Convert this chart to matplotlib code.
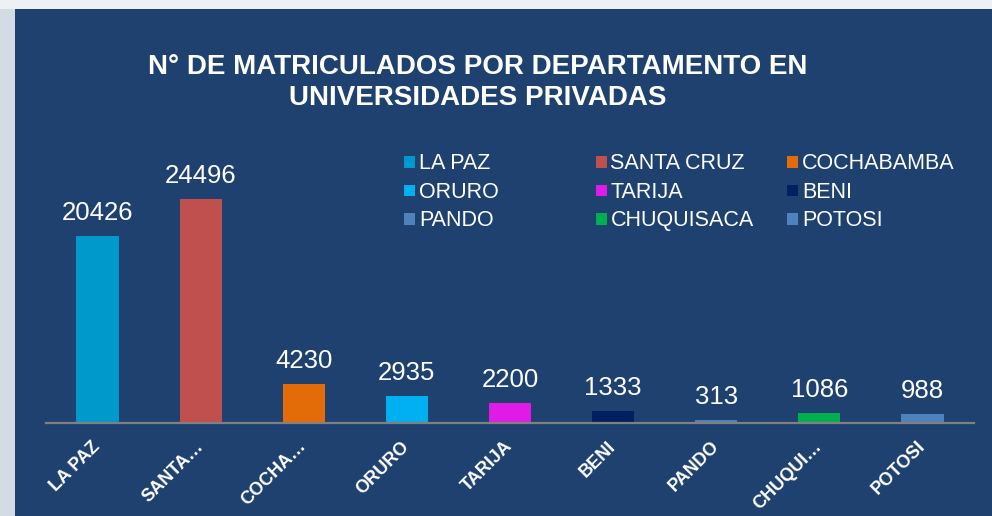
import matplotlib.pyplot as plt
from matplotlib.patches import Rectangle

departamentos = ["LA PAZ", "SANTA CRUZ", "COCHABAMBA", "ORURO", "TARIJA",
                 "BENI", "PANDO", "CHUQUISACA", "POTOSI"]
etiquetas = ["LA PAZ", "SANTA…", "COCHA…", "ORURO", "TARIJA",
             "BENI", "PANDO", "CHUQUI…", "POTOSI"]
matriculados = [20426, 24496, 4230, 2935, 2200, 1333, 313, 1086, 988]
colores = ["#0099CC", "#C0504D", "#E36C09", "#00B0F0", "#E01BE8",
           "#002060", "#4F81BD", "#00B050", "#4F81BD"]

panel = "#1F4170"
W, H = 992, 516

plt.rcParams['font.family'] = ['Liberation Sans', 'DejaVu Sans']

fig = plt.figure(figsize=(W / 100, H / 100), dpi=100, facecolor="#D3DCE5")
# white strip on top, dark panel behind everything
fig.patches.append(Rectangle((0, 1 - 9 / H), 1, 9 / H, transform=fig.transFigure,
                             facecolor="#EEF1F4", edgecolor="none", zorder=-10))
fig.patches.append(Rectangle((15 / W, 0), 1 - 15 / W, 1 - 9 / H, transform=fig.transFigure,
                             facecolor=panel, edgecolor="none", zorder=-10))

ax = fig.add_axes([46 / W, 1 - 423 / H, (974 - 46) / W, 293 / H])
ax.set_facecolor("none")

x = range(len(departamentos))
bars = ax.bar(x, matriculados, width=0.41, color=colores, zorder=2)
ax.set_xlim(-0.5, len(departamentos) - 0.5)
ax.set_ylim(0, 32043)

for b, v in zip(bars, matriculados):
    ax.annotate(str(v), (b.get_x() + b.get_width() / 2, v), xytext=(0, 8),
                textcoords="offset points", ha="center", va="bottom",
                color="white", fontsize=18.5)

for s in ["top", "right", "left"]:
    ax.spines[s].set_visible(False)
ax.spines["bottom"].set_color("#808080")
ax.spines["bottom"].set_linewidth(1.6)
ax.set_yticks([])
ax.tick_params(axis="x", length=0, pad=15)
ax.set_xticks(list(x))
ax.set_xticklabels(etiquetas, rotation=45, ha="right", va="center",
                   rotation_mode="anchor", color="white", fontsize=13,
                   fontweight="bold")

fig.text(478 / W, 1 - 82 / H, "N° DE MATRICULADOS POR DEPARTAMENTO EN\nUNIVERSIDADES PRIVADAS",
         ha="center", va="center", color="white", fontsize=20, fontweight="bold",
         linespacing=1.25)

# legend in three fixed-width columns
for i, (nombre, c) in enumerate(zip(departamentos, colores)):
    col, row = i % 3, i // 3
    lx = 404 + col * 191.5
    ly = 162.5 + row * 28.5
    fig.patches.append(Rectangle((lx / W, 1 - (ly + 5) / H), 11 / W, 11 / H,
                                 transform=fig.transFigure, facecolor=c,
                                 edgecolor="none"))
    fig.text((lx + 15) / W, 1 - (ly + 1) / H, nombre, ha="left", va="center",
             color="white", fontsize=15.5)

fig.savefig("out.png", dpi=100, facecolor=fig.get_facecolor())
